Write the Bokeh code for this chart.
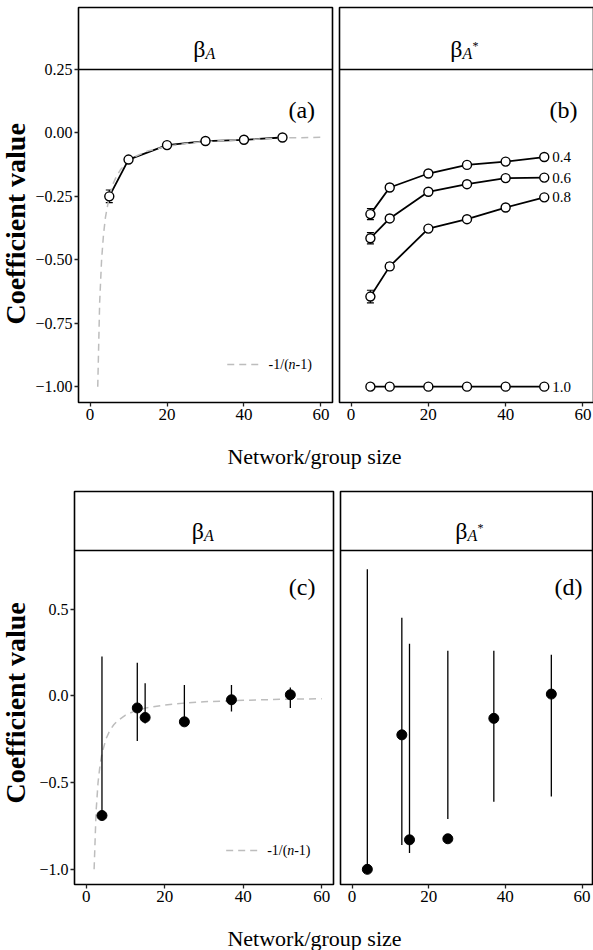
import math
from bokeh.plotting import figure
from bokeh.models import (Range1d, FixedTicker, Label, Whisker, TeeHead, Span,
                          ColumnDataSource, CustomJSTickFormatter, Arrow)
from bokeh.layouts import row, column
from bokeh.embed import file_html
from bokeh.resources import INLINE
from bokeh.core.properties import value

FONT = "Liberation Serif"

# ---------------- data ----------------
x_ticks = [0, 20, 40, 60]
y_ticks_top = [-1.0, -0.75, -0.5, -0.25, 0.0, 0.25]
y_ticks_bottom = [-1.0, -0.5, 0.0, 0.5]

# theoretical curve -1/(n-1)
curve_n = [2, 2.5, 3, 3.5, 4, 5, 6, 7, 8, 10, 12, 15, 20, 25, 30, 40, 50, 60]
curve_val = [-1.0, -0.667, -0.5, -0.4, -0.333, -0.25, -0.2, -0.167, -0.143,
             -0.111, -0.091, -0.071, -0.053, -0.042, -0.034, -0.026, -0.020, -0.017]

# panel (a)
size_a = [5, 10, 20, 30, 40, 50]
beta_a = [-0.25, -0.105, -0.048, -0.032, -0.027, -0.018]
beta_a_err = [0.025, 0.01, 0.006, 0.005, 0.005, 0.005]

# panel (b)
size_b = [5, 10, 20, 30, 40, 50]
rho_labels = ["0.4", "0.6", "0.8", "1.0"]
beta_b_04 = [-0.32, -0.215, -0.16, -0.126, -0.113, -0.095]
beta_b_06 = [-0.415, -0.337, -0.232, -0.202, -0.178, -0.176]
beta_b_08 = [-0.645, -0.526, -0.377, -0.34, -0.294, -0.254]
beta_b_10 = [-1.0, -1.0, -1.0, -1.0, -1.0, -1.0]
err_b_04 = [0.022, 0.012, 0.008, 0.006, 0.006, 0.005]
err_b_06 = [0.022, 0.012, 0.008, 0.006, 0.006, 0.005]
err_b_08 = [0.025, 0.014, 0.01, 0.007, 0.007, 0.006]
err_b_10 = [0.0, 0.0, 0.0, 0.0, 0.0, 0.0]

# panel (c)
size_c = [4, 13, 15, 25, 37, 52]
beta_c = [-0.69, -0.07, -0.125, -0.15, -0.023, 0.006]
beta_c_lo = [-0.69, -0.26, -0.16, -0.15, -0.09, -0.07]
beta_c_hi = [0.226, 0.19, 0.073, 0.063, 0.063, 0.048]

# panel (d)
size_d = [4, 13, 15, 25, 37, 52]
beta_d = [-1.0, -0.225, -0.83, -0.824, -0.13, 0.01]
beta_d_lo = [-1.0, -0.86, -0.906, -0.71, -0.61, -0.58]
beta_d_hi = [0.73, 0.45, 0.30, 0.26, 0.26, 0.236]

panel_tags = ["(a)", "(b)", "(c)", "(d)"]
strip_beta = "\u03b2"
strip_sub = "A"
strip_star = "*"
x_title = "Network/group size"
y_title = "Coefficient value"
curve_texts = ["-1/(", "n", "-1)"]

GREY = "#bdbdbd"


def style_axis(ax, size):
    ax.axis_line_color = None
    ax.major_tick_line_color = "#222222"
    ax.major_tick_line_width = 1.3
    ax.major_tick_out = 4
    ax.major_tick_in = 0
    ax.minor_tick_line_color = None
    ax.major_label_text_font = FONT
    ax.major_label_text_font_size = size
    ax.major_label_standoff = 2
    ax.major_label_text_color = "black"


def panel(fw, panel_h, strip_h, left, right, top, yr, show_y, star,
          yticks=None, digits=2, bx_off=0.0, xr=(-3, 63)):
    scale = panel_h / (yr[1] - yr[0])          # px per data unit
    ytop = yr[1] + strip_h / scale
    p = figure(frame_width=fw, frame_height=panel_h + strip_h,
               min_border_left=left, min_border_right=right,
               min_border_top=top, min_border_bottom=28,
               x_range=Range1d(*xr), y_range=Range1d(yr[0], ytop),
               output_backend="svg", toolbar_location=None,
               y_axis_location="left" if show_y else None)
    p.outline_line_color = "black"
    p.outline_line_width = 1.6
    p.grid.visible = False
    p.background_fill_color = "white"
    p.border_fill_color = "white"
    p.xaxis.ticker = FixedTicker(ticks=x_ticks)
    style_axis(p.xaxis[0], "17px")
    if show_y:
        p.yaxis.ticker = FixedTicker(ticks=yticks)
        p.yaxis.formatter = CustomJSTickFormatter(
            code="return (tick < -1e-9 ? '\u2212' : '') + Math.abs(tick).toFixed(%d);" % digits)
        style_axis(p.yaxis[0], "16px")
    # strip separator
    p.add_layout(Span(location=yr[1], dimension="width", line_color="black",
                      line_width=1.6))
    # strip text (beta with subscript)
    xc = (xr[0] + xr[1]) / 2.0
    yb = yr[1] + (strip_h * 0.33) / scale
    ya = yr[1] + (strip_h * 0.26) / scale
    p.add_layout(Label(x=xc, y=yb, x_offset=bx_off, text=strip_beta,
                       text_align="right", text_baseline="alphabetic",
                       text_font=FONT, text_font_size="24px", text_color="black"))
    p.add_layout(Label(x=xc, y=ya, x_offset=bx_off, text=strip_sub,
                       text_align="left", text_baseline="alphabetic",
                       text_font=FONT, text_font_style="italic",
                       text_font_size="16px", text_color="black"))
    if star:
        p.add_layout(Label(x=xc, y=ya, x_offset=bx_off + 10, y_offset=7,
                           text=strip_star, text_align="left",
                           text_baseline="alphabetic", text_font=FONT,
                           text_font_size="12px", text_color="black"))
    return p


def blank(w, h, xr, yr):
    p = figure(width=w, height=h, x_range=Range1d(*xr), y_range=Range1d(*yr),
               min_border=0, x_axis_location=None, y_axis_location=None,
               output_backend="svg", toolbar_location=None)
    p.outline_line_color = None
    p.grid.visible = False
    p.border_fill_color = "white"
    p.background_fill_color = "white"
    return p


def tag(p, x, y, t):
    p.add_layout(Label(x=x, y=y, text=t, text_align="center",
                       text_baseline="middle", text_font=FONT,
                       text_font_size="24px", text_color="black"))


def curve(p, leg_x0, leg_x1, leg_y, txt_x):
    p.line(curve_n, curve_val, line_color=GREY, line_dash="7 5", line_width=1.5)
    p.add_layout(Arrow(x_start=leg_x0, y_start=leg_y, x_end=leg_x1, y_end=leg_y,
                       start=None, end=None, line_color=GREY,
                       line_dash="7 5", line_width=1.5))
    offs = [0, 20, 27]
    styles = ["normal", "italic", "normal"]
    for t, o, s in zip(curve_texts, offs, styles):
        p.add_layout(Label(x=txt_x, y=leg_y, x_offset=o, text=t,
                           text_align="left", text_baseline="middle",
                           text_font=FONT, text_font_style=s,
                           text_font_size="14px", text_color="black"))


def ylabel_fig(h, yr, yc):
    f = blank(32, h, (0, 32), yr)
    f.add_layout(Label(x=15, y=yc, text=y_title, angle=math.pi / 2,
                       text_align="center", text_baseline="middle",
                       text_font=FONT, text_font_style="bold",
                       text_font_size="28px", text_color="black"))
    return f


def xlabel_fig(h, yr, base):
    f = blank(593, h, (0, 593), yr)
    f.add_layout(Label(x=314, y=base, text=x_title, text_align="center",
                       text_baseline="alphabetic", text_font=FONT,
                       text_font_size="22px", text_color="black"))
    return f


# ---------------- row 1 ----------------
YR_TOP = (-1.0625, 0.25)
pa = panel(254, 333, 62, 45, 4, 7, YR_TOP, True, False, y_ticks_top, 2)
src_a = ColumnDataSource(dict(x=size_a, y=beta_a,
                              lo=[v - e for v, e in zip(beta_a, beta_a_err)],
                              hi=[v + e for v, e in zip(beta_a, beta_a_err)]))
pa.line("x", "y", source=src_a, line_color="black", line_width=1.8)
curve(pa, 35.65, 44.6, -0.913, 46.4)
pa.add_layout(Whisker(base="x", lower="lo", upper="hi", source=src_a,
                      line_color="black", line_width=1.2,
                      upper_head=TeeHead(size=7, line_color="black", line_width=1.2),
                      lower_head=TeeHead(size=7, line_color="black", line_width=1.2)))
pa.scatter("x", "y", source=src_a, marker="circle", size=9, fill_color="white",
           line_color="black", line_width=1.4)
tag(pa, 55, 0.09, panel_tags[0])

pb = panel(255, 333, 62, 3, 0, 7, YR_TOP, False, True, bx_off=-4.5)
for vals, errs in [(beta_b_04, err_b_04), (beta_b_06, err_b_06),
                   (beta_b_08, err_b_08), (beta_b_10, err_b_10)]:
    src = ColumnDataSource(dict(x=size_b, y=vals,
                                lo=[v - e for v, e in zip(vals, errs)],
                                hi=[v + e for v, e in zip(vals, errs)]))
    pb.line("x", "y", source=src, line_color="black", line_width=1.8)
    pb.add_layout(Whisker(base="x", lower="lo", upper="hi", source=src,
                          line_color="black", line_width=1.2,
                          upper_head=TeeHead(size=7, line_color="black", line_width=1.2),
                          lower_head=TeeHead(size=7, line_color="black", line_width=1.2)))
    pb.scatter("x", "y", source=src, marker="circle", size=9, fill_color="white",
               line_color="black", line_width=1.4)
lab_src = ColumnDataSource(dict(
    x=[size_b[-1]] * 4,
    y=[beta_b_04[-1], beta_b_06[-1], beta_b_08[-1], beta_b_10[-1]],
    t=rho_labels))
pb.text("x", "y", text="t", source=lab_src, x_offset=8, text_align="left",
        text_baseline="middle", text_font_size="15px", text_font=value(FONT),
        text_color="black")
tag(pb, 55, 0.09, panel_tags[1])

ylab1 = ylabel_fig(430, (430, 0), 235.5)
xlab1 = xlabel_fig(60, (490, 430), 456)

# ---------------- row 2 ----------------
YR_BOT = (-1.0875, 0.8375)
pc = panel(259, 334, 59, 42, 4, 1, YR_BOT, True, False, y_ticks_bottom, 1)
curve(pc, 35.65, 44.4, -0.892, 46.1)
src_c = ColumnDataSource(dict(x=size_c, y=beta_c, lo=beta_c_lo, hi=beta_c_hi))
pc.segment(x0="x", y0="lo", x1="x", y1="hi", source=src_c, line_color="black",
           line_width=1.3)
pc.scatter("x", "y", source=src_c, marker="circle", size=10, fill_color="black",
           line_color="black")
tag(pc, 55, 0.626, panel_tags[2])

pd = panel(253, 334, 59, 3, 0, 1, YR_BOT, False, True, bx_off=0.5)
src_d = ColumnDataSource(dict(x=size_d, y=beta_d, lo=beta_d_lo, hi=beta_d_hi))
pd.segment(x0="x", y0="lo", x1="x", y1="hi", source=src_d, line_color="black",
           line_width=1.3)
pd.scatter("x", "y", source=src_d, marker="circle", size=10, fill_color="black",
           line_color="black")
tag(pd, 56.5, 0.626, panel_tags[3])

ylab2 = ylabel_fig(422, (912, 490), 717)
xlab2 = xlabel_fig(38, (950, 912), 938)

top = column(row(ylab1, pa, pb), xlab1)
bottom = column(row(ylab2, pc, pd), xlab2)
layout = column(top, bottom)

open("out.html", "w").write(file_html(layout, INLINE))
